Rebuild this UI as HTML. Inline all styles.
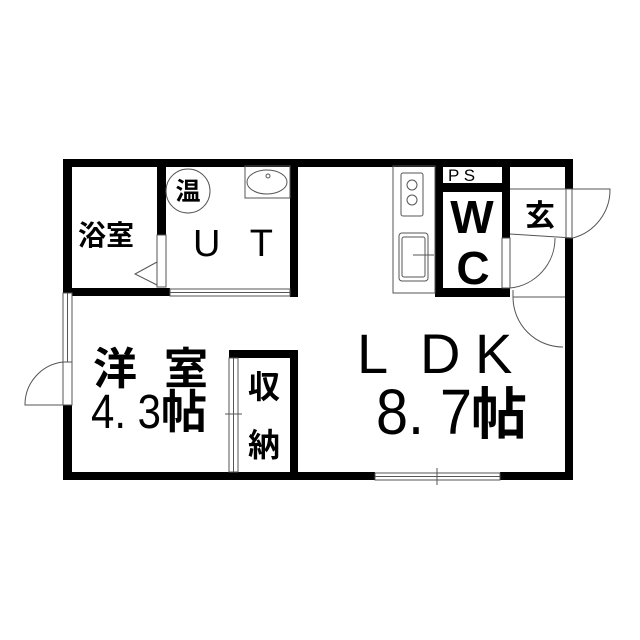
<!DOCTYPE html>
<html><head><meta charset="utf-8"><style>
html,body{margin:0;padding:0;background:#fff;}
svg{display:block;}
text{font-family:"Liberation Sans","Noto Sans CJK JP",sans-serif;fill:#000;}
.b{font-weight:bold;}
</style></head><body>
<svg width="640" height="640" viewBox="0 0 640 640" xmlns="http://www.w3.org/2000/svg">
<rect width="640" height="640" fill="#fff"/>
<g fill="#000">
<rect x="63" y="159" width="510" height="8"/>
<rect x="63" y="159" width="9" height="134"/>
<rect x="63" y="405" width="9" height="75"/>
<rect x="63" y="472" width="312" height="8"/>
<rect x="500" y="472" width="73" height="8"/>
<rect x="565" y="159" width="8" height="30"/>
<rect x="565" y="238" width="8" height="242"/>
<rect x="157" y="159" width="9" height="76"/>
<rect x="63" y="288" width="107" height="8"/>
<rect x="290" y="159" width="8" height="138"/>
<rect x="435" y="159" width="8" height="138"/>
<rect x="435" y="183" width="75" height="9"/>
<rect x="502" y="159" width="8" height="79"/>
<rect x="435" y="288" width="75" height="9"/>
<rect x="229" y="350" width="69" height="8"/>
<rect x="290" y="350" width="8" height="130"/>
</g>
<g fill="none" stroke="#555" stroke-width="1">
<rect x="170" y="289" width="120" height="7" fill="#fff"/>
<line x1="170" y1="292.5" x2="290" y2="292.5"/>
<rect x="63" y="293" width="9" height="69" fill="#fff"/>
<line x1="67.5" y1="293" x2="67.5" y2="362"/>
<rect x="375" y="473" width="125" height="7" fill="#fff"/>
<line x1="375" y1="476.5" x2="500" y2="476.5"/>
<line x1="437" y1="468" x2="437" y2="485"/>
<rect x="157" y="235" width="9" height="52" fill="#fff"/>
<polyline points="157,262 135,274 157,285"/>
<rect x="63" y="362" width="9" height="43" fill="#fff"/>
<path d="M63,362 A43,43 0 0 0 25,405 L63,405"/>
<rect x="566" y="189" width="6" height="49" fill="#fff"/>
<path d="M510,189 L573,189 M510,234 L573,238"/>
<path d="M573,189 L610,189 A50,50 0 0 1 573,238"/>
<rect x="502" y="238" width="8" height="50" fill="#fff"/>
<path d="M510,288 A50,50 0 0 0 555,238"/>
<path d="M513,290 L513,297 L565,297 M513,297 A50,50 0 0 0 563,347"/>
<rect x="229" y="358" width="9" height="114" fill="#fff"/>
<line x1="233.5" y1="358" x2="233.5" y2="472"/>
<line x1="225" y1="414" x2="242" y2="414"/>
<rect x="393" y="166" width="42" height="127"/>
<rect x="401" y="173" width="22" height="43" rx="2"/>
<circle cx="412" cy="185" r="5"/><circle cx="412" cy="200" r="5"/>
<rect x="399" y="233" width="29" height="48" rx="3"/>
<rect x="402" y="237" width="23" height="40" rx="2"/>
<line x1="413" y1="255" x2="434" y2="255"/>
<rect x="245" y="166" width="45" height="32"/>
<ellipse cx="267" cy="182" rx="20" ry="12"/>
<circle cx="268" cy="176" r="2"/>
<circle cx="188" cy="191" r="22"/>
</g>
<text x="188" y="200" font-size="25" text-anchor="middle" class="b">温</text>
<text x="78" y="245" font-size="28" class="b">浴室</text>
<text x="193" y="256" font-size="38" textLength="80" lengthAdjust="spacing">U T</text>
<text x="448" y="181" font-size="17">P S</text>
<text x="472" y="233" font-size="46" text-anchor="middle" class="b">W</text>
<text x="473" y="284" font-size="46" text-anchor="middle" class="b">C</text>
<text x="540" y="226" font-size="30" text-anchor="middle" class="b">玄</text>
<text x="93" y="384" font-size="44" class="b">洋</text>
<text x="164" y="384" font-size="44" class="b">室</text>
<text x="91" y="428" font-size="48" textLength="70" lengthAdjust="spacingAndGlyphs">4. 3</text>
<text x="161" y="428" font-size="46" class="b">帖</text>
<text x="264" y="398" font-size="32" text-anchor="middle" class="b">収</text>
<text x="264" y="456" font-size="32" text-anchor="middle" class="b">納</text>
<text x="357" y="373" font-size="56">L</text>
<text x="420" y="373" font-size="56">D</text>
<text x="475" y="373" font-size="56">K</text>
<text x="376" y="434" font-size="64" textLength="96" lengthAdjust="spacingAndGlyphs">8. 7</text>
<text x="471" y="434" font-size="56" class="b">帖</text>
</svg>
</body></html>
